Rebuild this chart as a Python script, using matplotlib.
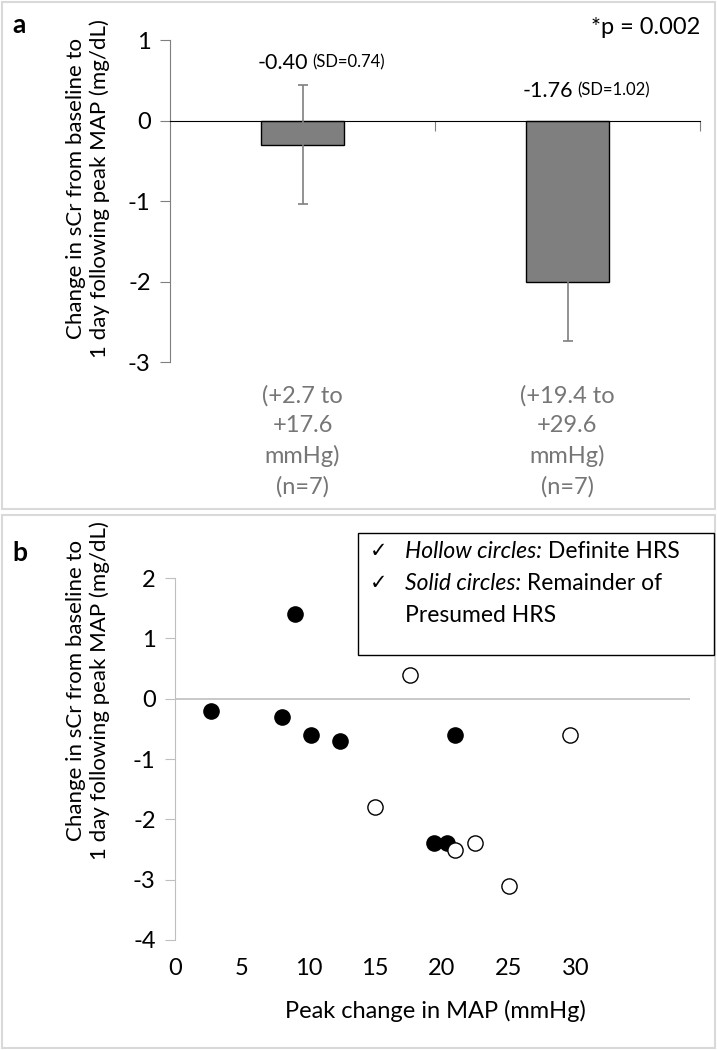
import matplotlib.pyplot as plt
from matplotlib.patches import Rectangle
from matplotlib.transforms import blended_transform_factory
import numpy as np

plt.rcParams['font.family'] = ['Lato', 'DejaVu Sans']

# Panel a data
groups = ['(+2.7 to\n+17.6\nmmHg)\n(n=7)', '(+19.4 to\n+29.6\nmmHg)\n(n=7)']
bar_vals = [-0.3, -2.0]
bar_err = [0.74, 0.74]
mean_txt = ['-0.40', '-1.76']
sd_txt = ['(SD=0.74)', '(SD=1.02)']
label_y = [0.72, 0.37]

# Panel b data
solid_x = [2.7, 8.0, 9.0, 10.2, 12.4, 19.4, 20.4, 21.0]
solid_y = [-0.2, -0.3, 1.4, -0.6, -0.7, -2.4, -2.4, -0.6]
hollow_x = [17.6, 15.0, 21.0, 22.5, 25.0, 29.6]
hollow_y = [0.4, -1.8, -2.5, -2.4, -3.1, -0.6]

W, H = 717, 1050
fig = plt.figure(figsize=(W / 100, H / 100), dpi=100)

def fx(px):
    return px / W

def fy(py):
    return 1 - py / H

ylab = 'Change in sCr from baseline to\n1 day following peak MAP (mg/dL)'

# panel frames
fig.add_artist(Rectangle((fx(2), fy(509)), fx(713), 507 / H, transform=fig.transFigure,
                         fill=False, edgecolor='#d9d9d9', lw=1.5))
fig.add_artist(Rectangle((fx(2), fy(1048)), fx(713), 533 / H, transform=fig.transFigure,
                         fill=False, edgecolor='#d9d9d9', lw=1.5))

# ---------------- panel a ----------------
axa = fig.add_axes([fx(170), fy(362), fx(530), 322 / H])
x = np.arange(len(bar_vals))
axa.bar(x, bar_vals, width=0.31, color='#7f7f7f', edgecolor='black', lw=1, zorder=2)
axa.errorbar(x, bar_vals, yerr=bar_err, fmt='none', ecolor='#7f7f7f', elinewidth=1.2,
             capsize=3.5, capthick=1.2, zorder=3)
axa.set_xlim(-0.5, 1.5)
axa.set_ylim(-3, 1)
axa.set_yticks([1, 0, -1, -2, -3])
axa.set_yticklabels(['1', '0', '-1', '-2', '-3'])
for s in ['top', 'right']:
    axa.spines[s].set_visible(False)
axa.spines['left'].set_color('#7f7f7f')
axa.spines['bottom'].set_position(('data', 0))
axa.spines['bottom'].set_color('black')
axa.set_xticks([0.5, 1.5])
axa.set_xticklabels(['', ''])
axa.tick_params(axis='x', length=7, color='#7f7f7f', direction='out')
axa.tick_params(axis='y', length=7, color='#7f7f7f', labelsize=17, pad=7)
axa.set_ylabel(ylab, fontsize=16, linespacing=1.2)
axa.yaxis.set_label_coords(-0.113, 0.54)

trans = blended_transform_factory(axa.transData, axa.transAxes)
for i, g in enumerate(groups):
    axa.text(i, -0.072, g, transform=trans, ha='center', va='top', fontsize=17,
             color='#767676', linespacing=1.5)
    axa.annotate(mean_txt[i], xy=(i, label_y[i]), xytext=(4, 0), textcoords='offset points',
                 ha='right', va='center', fontsize=15.5)
    axa.annotate(sd_txt[i], xy=(i, label_y[i]), xytext=(7, 0), textcoords='offset points',
                 ha='left', va='center', fontsize=12)

fig.text(fx(12), fy(25), 'a', fontsize=19, fontweight='bold', va='center')
fig.text(fx(700), fy(28), '*p = 0.002', fontsize=17, ha='right', va='center')

# ---------------- panel b ----------------
axb = fig.add_axes([fx(175), fy(940), fx(515), 362 / H])
axb.axhline(0, color='#bfbfbf', lw=1.2, zorder=1)
axb.scatter(solid_x, solid_y, s=120, facecolor='black', edgecolor='black', lw=1, zorder=3)
axb.scatter(hollow_x, hollow_y, s=120, facecolor='white', edgecolor='black', lw=1, zorder=3)
axb.set_xlim(0, 38.6)
axb.set_ylim(-4, 2)
axb.set_xticks([0, 5, 10, 15, 20, 25, 30])
axb.set_yticks([2, 1, 0, -1, -2, -3, -4])
axb.set_yticklabels(['2', '1', '0', '-1', '-2', '-3', '-4'])
for s in ['top', 'right', 'bottom']:
    axb.spines[s].set_visible(False)
axb.spines['left'].set_color('#bfbfbf')
axb.tick_params(axis='x', length=0, labelsize=17, pad=13)
axb.tick_params(axis='y', length=7, color='#bfbfbf', labelsize=17, pad=7)
axb.set_ylabel(ylab, fontsize=16, linespacing=1.2)
axb.yaxis.set_label_coords(-0.127, 0.69)
axb.set_xlabel('Peak change in MAP (mmHg)', fontsize=17)
axb.xaxis.set_label_coords(0.505, -0.165)

fig.text(fx(12), fy(553), 'b', fontsize=19, fontweight='bold', va='center')

# legend text box
fig.add_artist(Rectangle((fx(358), fy(655)), fx(356), 122 / H, transform=fig.transFigure,
                         fill=False, edgecolor='black', lw=1))
rows = [('Hollow circles:', ' Definite HRS', 551), ('Solid circles:', ' Remainder of', 583)]
fig.canvas.draw()
r = fig.canvas.get_renderer()
for it, rest, py in rows:
    fig.text(fx(370), fy(py), '\u2713', fontsize=15, va='center', family=['DejaVu Sans'])
    t = fig.text(fx(405), fy(py), it, fontsize=16.5, style='italic', va='center')
    bb = t.get_window_extent(renderer=r)
    fig.text(bb.x1 / W, fy(py), rest, fontsize=16.5, va='center')
fig.text(fx(405), fy(615), 'Presumed HRS', fontsize=16.5, va='center')

fig.savefig('out.png', dpi=100)
